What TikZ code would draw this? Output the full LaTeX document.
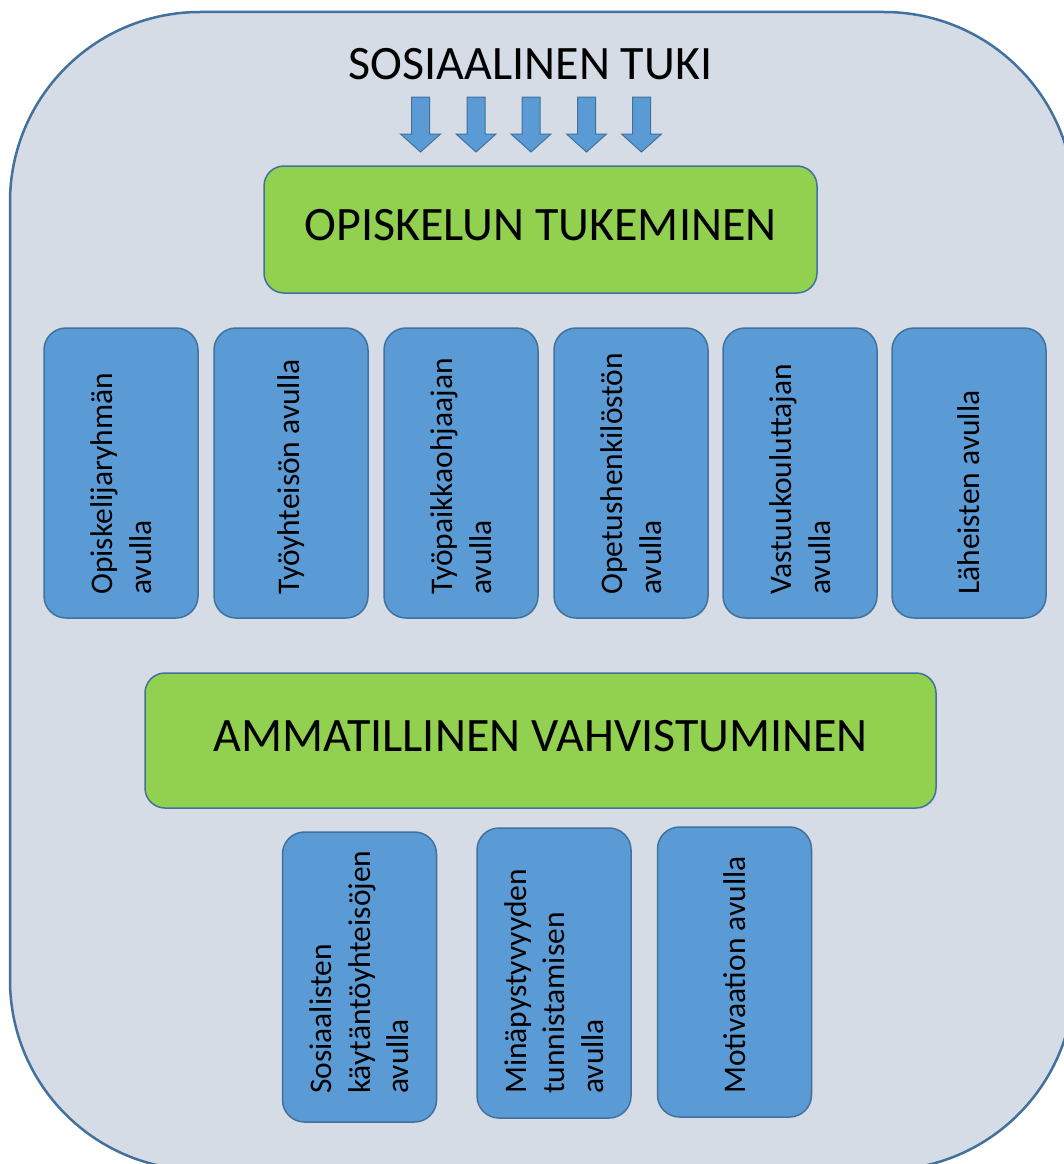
\documentclass[tikz,border=0pt]{standalone}
\usepackage{fontspec}
\setmainfont{Carlito}
\definecolor{bgfill}{HTML}{D6DCE5}
\definecolor{framecol}{HTML}{41719C}
\definecolor{bluefill}{HTML}{5B9BD5}
\definecolor{greenfill}{HTML}{92D050}
\begin{document}
\begin{tikzpicture}[x=1pt,y=-1pt,
  framebox/.style={draw=framecol, line width=2.5pt, fill=bgfill, rounded corners=190pt},
  greenbox/.style={draw=framecol, line width=1.5pt, fill=greenfill, rounded corners=20pt, inner sep=0pt,
    font=\fontsize{48}{58}\selectfont, text height=31pt, text depth=10pt},
  bluebox/.style={draw=framecol, line width=1.5pt, fill=bluefill, rounded corners=22pt,
    minimum width=154pt, minimum height=290pt, inner sep=0pt},
  vtext/.style={rotate=90, anchor=west, align=left, inner sep=0pt, font=\fontsize{31.5}{38.5}\selectfont},
  downarrow/.style={draw=framecol, line width=1pt, fill=bluefill},
  titletext/.style={anchor=base, inner sep=0pt, font=\fontsize{48}{58}\selectfont}
]
\useasboundingbox (0,0) rectangle (1063,1164);
\path[framebox] (10,12) rectangle (1074,1170);

\node[titletext] (title) at (530.5,80) {SOSIAALINEN TUKI};

\foreach \x in {420.5,476,531,586.5,641.5}{
  \draw[downarrow] ({\x-9},97) -- ({\x+9},97) -- ({\x+9},134) -- ({\x+20},134) -- (\x,152)
    -- ({\x-20},134) -- ({\x-9},134) -- cycle;
}

\node[greenbox, minimum width=553pt, minimum height=127pt] (opiskelun) at (540.5,229.5) {OPISKELUN TUKEMINEN};

\node[bluebox] (b1) at (121,473) {};
\node[bluebox] (b2) at (291,473) {};
\node[bluebox] (b3) at (461,473) {};
\node[bluebox] (b4) at (631,473) {};
\node[bluebox] (b5) at (800,473) {};
\node[bluebox] (b6) at (969,473) {};
\node[vtext] (t1) at (121,595) {Opiskelijaryhmän\\avulla};
\node[vtext] (t2) at (291,595) {Työyhteisön avulla};
\node[vtext] (t3) at (461,595) {Työpaikkaohjaajan\\avulla};
\node[vtext] (t4) at (631,595) {Opetushenkilöstön\\avulla};
\node[vtext] (t5) at (800,595) {Vastuukouluttajan\\avulla};
\node[vtext] (t6) at (969,595) {Läheisten avulla};

\node[greenbox, minimum width=791pt, minimum height=135pt] (ammatillinen) at (540.5,740.5) {AMMATILLINEN VAHVISTUMINEN};

\node[bluebox] (c1) at (359.5,977) {};
\node[bluebox] (c2) at (554,973) {};
\node[bluebox] (c3) at (734.5,972) {};
\node[vtext] (u1) at (359.5,1094) {Sosiaalisten\\käytäntöyhteisöjen\\avulla};
\node[vtext] (u2) at (554,1094) {Minäpystyvyyden\\tunnistamisen\\avulla};
\node[vtext] (u3) at (734.5,1094) {Motivaation avulla};
\end{tikzpicture}
\end{document}
